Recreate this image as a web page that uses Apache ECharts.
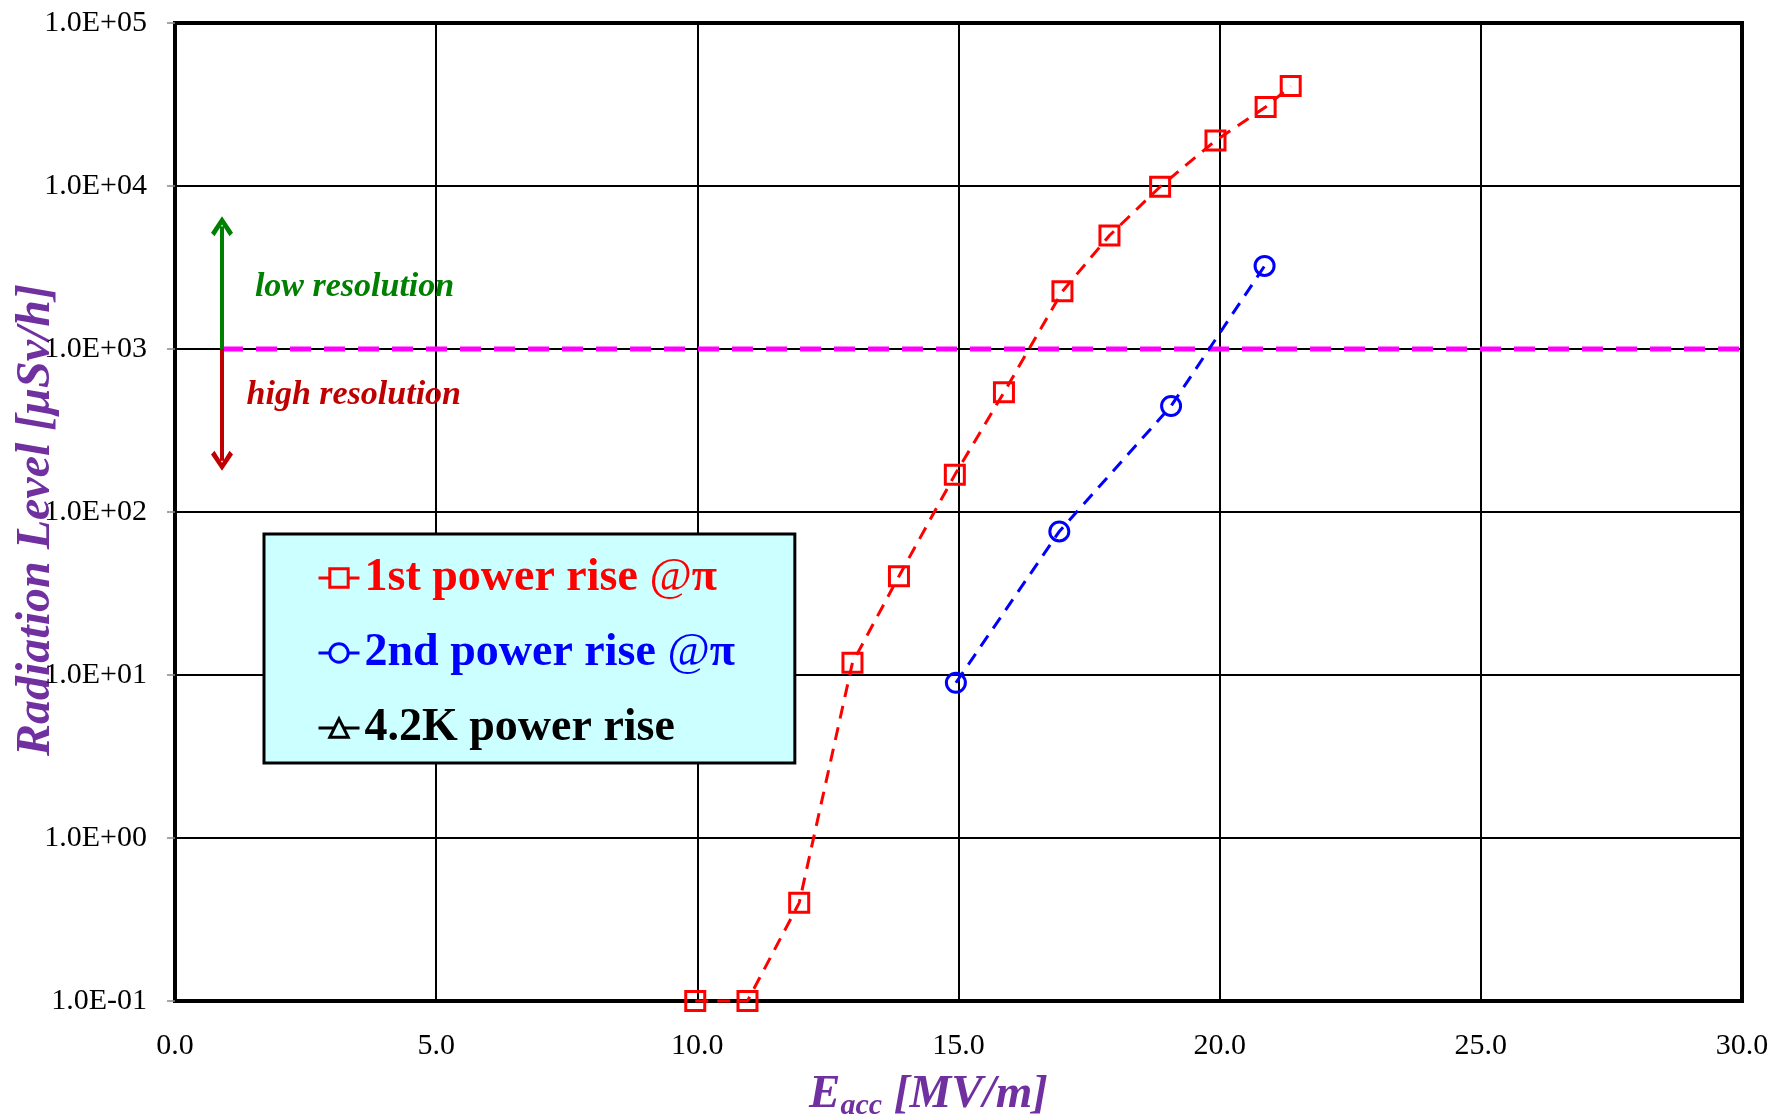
<!DOCTYPE html>
<html><head><meta charset="utf-8">
<script src="https://cdn.jsdelivr.net/npm/echarts@6/dist/echarts.min.js"></script>
<style>html,body{margin:0;padding:0;background:#fff}#c{width:1773px;height:1115px}</style>
</head><body><div id="c"></div>
<script>
// ---- data ----
const xTickLabels = ['0.0', '5.0', '10.0', '15.0', '20.0', '25.0', '30.0'];
const yTickLabels = ['1.0E-01', '1.0E+00', '1.0E+01', '1.0E+02', '1.0E+03', '1.0E+04', '1.0E+05'];
const seriesNames = ['1st power rise @π', '2nd power rise @π', '4.2K power rise'];
const firstRiseX = [9.96, 10.96, 11.95, 12.97, 13.86, 14.93, 15.87, 16.99, 17.89, 18.86, 19.92, 20.88, 21.36];
const firstRiseY = [0.1, 0.1, 0.40, 11.9, 40.4, 169, 542, 2260, 4970, 9900, 19000, 30500, 41000];
const secondRiseX = [14.95, 16.93, 19.07, 20.86];
const secondRiseY = [8.96, 76, 447, 3235];
const kRiseX = [];
const kRiseY = [];
const thresholdX = [0.9, 30];
const thresholdY = [1000, 1000];
const lowArrowY = [1000, 5660];
const highArrowY = [1000, 206];
const annotTexts = ['low resolution', 'high resolution'];
const annotX = [1.52, 1.36];
const annotY = [2400, 522];

const zip = (xs, ys) => xs.map((x, i) => [x, ys[i]]);
const SERIF = 'Liberation Serif';
const chevron = 'path://M11,0 L22,16 L18.5,19.5 L11,8 L3.5,19.5 L0,16 Z';

const chart = echarts.init(document.getElementById('c'), null, {renderer: 'canvas'});
const xMin = 0, xMax = 30, xStep = 5;
const yMin = 0.1, yMax = 100000;

const option = {
  backgroundColor: '#ffffff',
  animation: false,
  grid: {left: 175, top: 23, right: 31, bottom: 114, show: true, borderColor: '#000', borderWidth: 4,
         containLabel: false, outerBoundsMode: 'none'},
  xAxis: {
    type: 'value', min: xMin, max: xMax, interval: xStep,
    axisLine: {show: true, onZero: false, lineStyle: {color: '#000', width: 4}},
    axisTick: {show: false},
    splitLine: {show: true, lineStyle: {color: '#000', width: 2}},
    axisLabel: {
      margin: 30, fontFamily: SERIF, fontSize: 30, color: '#000',
      formatter: v => xTickLabels[Math.round((v - xMin) / xStep)] ?? ''
    },
    name: '{e|E}{s|acc}{e| [MV/m]}',
    nameLocation: 'middle', nameGap: 68, nameMoveOverlap: false,
    nameTextStyle: {
      padding: [0, 60, 0, 0],
      rich: {
        e: {fontFamily: SERIF, fontStyle: 'italic', fontWeight: 'bold', fontSize: 47, color: '#7030A0', lineHeight: 52},
        s: {fontFamily: SERIF, fontStyle: 'italic', fontWeight: 'bold', fontSize: 30, color: '#7030A0', lineHeight: 30, verticalAlign: 'bottom'}
      }
    }
  },
  yAxis: {
    type: 'log', logBase: 10, min: yMin, max: yMax, interval: 1,
    axisLine: {show: true, lineStyle: {color: '#000', width: 4}},
    axisTick: {show: true, length: 8, lineStyle: {color: '#888', width: 1.5}},
    splitLine: {show: true, lineStyle: {color: '#000', width: 2}},
    minorTick: {show: false}, minorSplitLine: {show: false},
    axisLabel: {
      margin: 28, fontFamily: SERIF, fontSize: 30, color: '#000',
      formatter: v => yTickLabels[Math.round(Math.log10(v) - Math.log10(yMin))] ?? ''
    },
    name: 'Radiation Level [μSv/h]',
    nameLocation: 'middle', nameGap: 113, nameRotate: 90, nameMoveOverlap: false,
    nameTextStyle: {fontFamily: SERIF, fontStyle: 'italic', fontWeight: 'bold', fontSize: 48, color: '#7030A0',
                    lineHeight: 50, padding: [0, 16, 0, 0]}
  },
  legend: {
    orient: 'vertical', left: 264, top: 534,
    padding: [20, 60, 11, 53],
    backgroundColor: '#CCFFFF', borderColor: '#000', borderWidth: 3, borderRadius: 0,
    itemWidth: 41, itemHeight: 23, itemGap: 27,
    lineStyle: {width: 3, type: 'solid'},
    itemStyle: {color: '#CCFFFF', borderWidth: 3},
    formatter: n => n.replace('@', '{at|@}'),
    textStyle: {
      fontFamily: SERIF, fontWeight: 'bold', fontSize: 46, lineHeight: 48,
      rich: {at: {fontFamily: SERIF, fontStyle: 'italic', fontWeight: 'normal', fontSize: 46, lineHeight: 48}}
    },
    data: [
      {name: seriesNames[0], textStyle: {color: '#FF0000'}},
      {name: seriesNames[1], textStyle: {color: '#0000FF'}},
      {name: seriesNames[2], textStyle: {color: '#000000'}}
    ]
  },
  series: [
    {
      name: 'threshold', type: 'line', data: zip(thresholdX, thresholdY),
      symbol: 'none', silent: true, z: 3,
      lineStyle: {color: '#FF00FF', width: 5, type: [21, 13]},
      markLine: {
        silent: true, animation: false,
        symbol: ['none', chevron], symbolSize: [22, 20],
        label: {show: false},
        data: [
          [{coord: [thresholdX[0], lowArrowY[0]], lineStyle: {color: '#008000', width: 4, type: 'solid'}},
           {coord: [thresholdX[0], lowArrowY[1]]}],
          [{coord: [thresholdX[0], highArrowY[0]], lineStyle: {color: '#C00000', width: 4, type: 'solid'}},
           {coord: [thresholdX[0], highArrowY[1]]}]
        ]
      },
      markPoint: {
        silent: true, symbol: 'circle', symbolSize: 1, itemStyle: {color: 'transparent'},
        data: [
          {coord: [annotX[0], annotY[0]], label: {show: true, position: 'right', distance: 0, formatter: annotTexts[0],
            fontFamily: SERIF, fontStyle: 'italic', fontWeight: 'bold', fontSize: 34, color: '#008000'}},
          {coord: [annotX[1], annotY[1]], label: {show: true, position: 'right', distance: 0, formatter: annotTexts[1],
            fontFamily: SERIF, fontStyle: 'italic', fontWeight: 'bold', fontSize: 34, color: '#C00000'}}
        ]
      }
    },
    {
      name: seriesNames[0], type: 'line', data: zip(firstRiseX, firstRiseY), clip: false, z: 4,
      symbol: 'rect', symbolSize: 19,
      itemStyle: {color: 'transparent', borderColor: '#FF0000', borderWidth: 3},
      lineStyle: {color: '#FF0000', width: 3, type: [13, 9]}
    },
    {
      name: seriesNames[1], type: 'line', data: zip(secondRiseX, secondRiseY), clip: false, z: 4,
      symbol: 'circle', symbolSize: 19,
      itemStyle: {color: 'transparent', borderColor: '#0000FF', borderWidth: 3},
      lineStyle: {color: '#0000FF', width: 3, type: [13, 9]}
    },
    {
      name: seriesNames[2], type: 'line', data: zip(kRiseX, kRiseY), clip: false, z: 4,
      symbol: 'triangle', symbolSize: 19,
      itemStyle: {color: 'transparent', borderColor: '#000000', borderWidth: 3},
      lineStyle: {color: '#000000', width: 3, type: [13, 9]}
    }
  ]
};
chart.setOption(option);
</script>
</body></html>
